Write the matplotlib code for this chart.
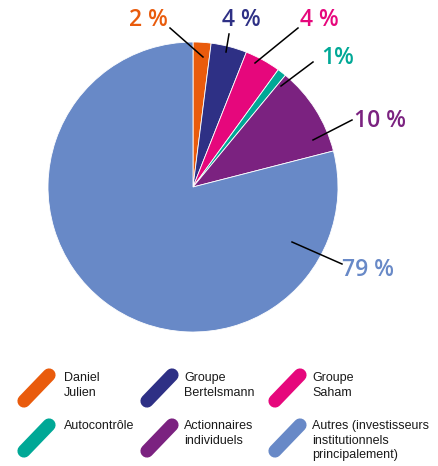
import matplotlib.pyplot as plt

# Shareholder structure
labels = ['Daniel\nJulien', 'Groupe\nBertelsmann', 'Groupe\nSaham',
          'Autocontrôle', 'Actionnaires\nindividuels',
          'Autres (investisseurs\ninstitutionnels\nprincipalement)']
shares = [2, 4, 4, 1, 10, 79]
colors = ['#E95B0C', '#2E3085', '#E6077C', '#00A896', '#7B2280', '#6889C7']

legend_font = 'Liberation Sans'
value_font = 'Open Sans'

W, H = 438, 466
fig = plt.figure(figsize=(W / 100, H / 100), dpi=100)
ax = fig.add_axes([0, 0, 1, 1])

cx, cy, r = 193, H - 187, 145
wedges, _ = ax.pie(shares, colors=colors, startangle=90, counterclock=False,
                   center=(cx, cy), radius=r,
                   wedgeprops=dict(linewidth=0.6, edgecolor='white'))

# value labels: text position and leader line ends (pixels, y from top)
label_pos = [(148, 20), (241, 20), (319, 20), (338, 58), (380, 121), (368, 270)]
line_from = [(203, 57), (226, 52), (255, 63), (281, 86), (313, 140), (292, 242)]
line_to = [(170, 28), (229, 34), (298, 28), (313, 62), (352, 120), (342, 264)]

for val, col, (tx, ty), (x0, y0), (x1, y1) in zip(shares, colors, label_pos,
                                                  line_from, line_to):
    txt = f'{val}%' if val == 1 else f'{val} %'
    ax.plot([x0, x1], [H - y0, H - y1], color='black', lw=1.1)
    ax.text(tx, H - ty, txt, color=col, fontsize=16.5, family=value_font,
            weight='semibold', ha='center', va='center')

# legend with rounded diagonal swatches
bar_x = [24, 147, 275]
text_x = [64, 184, 312]
row_y = [388, 438]
text_top = [372, 420]
for i, (lab, col) in enumerate(zip(labels, colors)):
    row, c = divmod(i, 3)
    bx, by = bar_x[c], row_y[row]
    ax.plot([bx, bx + 25], [H - (by + 13), H - (by - 13)], color=col,
            lw=9.5, solid_capstyle='round')
    ax.text(text_x[c], H - text_top[row], lab, fontsize=9, family=legend_font,
            color='#1a1a1a', ha='left', va='top', linespacing=1.3)

ax.set_xlim(0, W)
ax.set_ylim(0, H)
ax.set_aspect('equal')
ax.axis('off')
fig.savefig('out.png', dpi=100)
